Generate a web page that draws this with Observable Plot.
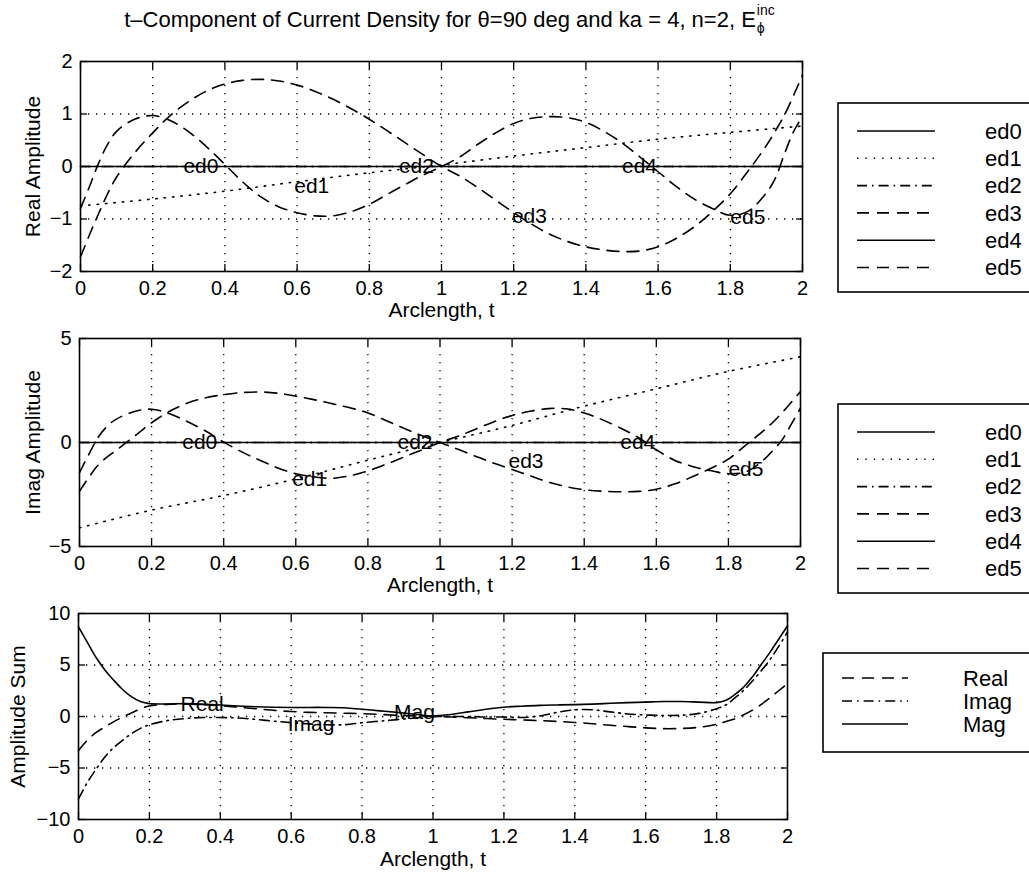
<!DOCTYPE html>
<html><head><meta charset="utf-8">
<script src="https://cdn.jsdelivr.net/npm/d3@7"></script>
<script src="https://cdn.jsdelivr.net/npm/@observablehq/plot@0.6"></script>
<style>
body{margin:0;background:#fff;}
#root{position:relative;width:1029px;height:880px;overflow:hidden;background:#fff;font-family:"Liberation Sans",Arial,Helvetica,sans-serif;color:#000;}
#root svg{position:absolute;left:0;top:0;}
#title{position:absolute;left:0;width:904px;top:7px;text-align:center;font-size:22px;line-height:24px;white-space:nowrap;}
.ss{display:inline-block;position:relative;width:24px;height:20px;vertical-align:baseline;}
.ss span{position:absolute;left:1px;font-size:14px;line-height:14px;}
</style></head><body>
<div id="root"><div id="title">t–Component of Current Density for θ=90 deg and ka = 4, n=2, E<span class="ss"><span style="top:-4px">inc</span><span style="top:14px">ϕ</span></span></div></div>
<script>
// ---------- data ----------
const xTicks = [0, 0.2, 0.4, 0.6, 0.8, 1, 1.2, 1.4, 1.6, 1.8, 2];
const xGrid = [0.2, 0.4, 0.6, 0.8, 1, 1.2, 1.4, 1.6, 1.8];
const tZero = [0, 2];
const zeroVals = [0, 0];
const tLin = [0, 0.2, 0.4, 0.6, 0.8, 1, 1.2, 1.4, 1.6, 1.8, 2];
const tGrid = [0, 0.025, 0.05, 0.075, 0.1, 0.15, 0.2, 0.25, 0.3, 0.35, 0.4, 0.45, 0.5, 0.55, 0.6, 0.65, 0.7, 0.75, 0.8, 0.85, 0.9, 0.95, 1.0,
  1.05, 1.1, 1.15, 1.2, 1.25, 1.3, 1.35, 1.4, 1.45, 1.5, 1.55, 1.6, 1.65, 1.7, 1.75, 1.8, 1.85, 1.9, 1.925, 1.95, 1.975, 2.0];

// Real amplitude
const realEd1 = [-0.75, -0.62, -0.47, -0.29, -0.12, 0.03, 0.2, 0.36, 0.52, 0.65, 0.77];
const realEd3 = [-1.72, -1.3, -0.9, -0.52, -0.2, 0.26, 0.64, 0.98, 1.24, 1.44, 1.57, 1.64, 1.66, 1.63, 1.55, 1.43, 1.28, 1.1, 0.9, 0.68, 0.45, 0.22, 0.0,
  -0.18, -0.4, -0.64, -0.88, -1.1, -1.29, -1.43, -1.53, -1.59, -1.62, -1.61, -1.53, -1.37, -1.15, -0.86, -0.52, -0.08, 0.4, 0.68, 0.98, 1.35, 1.74];
const realEd5 = [-0.8, -0.38, 0.06, 0.42, 0.67, 0.9, 0.97, 0.87, 0.66, 0.37, 0.04, -0.3, -0.58, -0.77, -0.88, -0.94, -0.94, -0.86, -0.72, -0.53, -0.34, -0.16, 0.0,
  0.18, 0.42, 0.64, 0.82, 0.92, 0.95, 0.93, 0.84, 0.67, 0.45, 0.18, -0.1, -0.38, -0.62, -0.8, -0.93, -0.85, -0.5, -0.22, 0.24, 0.66, 0.95];

// Imag amplitude
const imagEd1 = [-4.1, -3.25, -2.55, -1.75, -0.85, 0, 0.82, 1.75, 2.58, 3.42, 4.12];
const imagEd3 = [-2.35, -1.7, -1.12, -0.72, -0.4, 0.27, 0.95, 1.5, 1.9, 2.15, 2.3, 2.4, 2.43, 2.37, 2.23, 2.06, 1.87, 1.67, 1.42, 1.06, 0.68, 0.33, 0.0,
  -0.33, -0.67, -1.0, -1.3, -1.6, -1.9, -2.12, -2.27, -2.34, -2.37, -2.35, -2.25, -2.0, -1.65, -1.25, -0.8, -0.1, 0.6, 1.0, 1.45, 1.95, 2.45];
const imagEd5 = [-1.45, -0.6, 0.2, 0.75, 1.1, 1.48, 1.6, 1.38, 1.0, 0.55, 0.02, -0.45, -0.85, -1.22, -1.5, -1.65, -1.72, -1.6, -1.37, -1.05, -0.7, -0.35, 0.0,
  0.3, 0.65, 1.0, 1.3, 1.5, 1.63, 1.62, 1.42, 1.1, 0.7, 0.24, -0.35, -0.85, -1.15, -1.35, -1.5, -1.4, -0.8, -0.35, 0.15, 0.9, 1.65];

// Amplitude sums
const tSum = [0, 0.025, 0.05, 0.075, 0.1, 0.125, 0.15, 0.175, 0.2, 0.25, 0.3, 0.35, 0.4, 0.45, 0.5, 0.55, 0.6, 0.65, 0.7, 0.75, 0.8, 0.85, 0.9, 0.95, 1.0,
  1.05, 1.1, 1.15, 1.2, 1.25, 1.3, 1.35, 1.4, 1.45, 1.5, 1.55, 1.6, 1.65, 1.7, 1.75, 1.8, 1.825, 1.85, 1.875, 1.9, 1.925, 1.95, 1.975, 2.0];
const sumReal = [-3.3, -2.3, -1.55, -1.0, -0.5, -0.05, 0.35, 0.75, 1.02, 1.18, 1.22, 1.15, 1.05, 0.9, 0.75, 0.6, 0.48, 0.4, 0.36, 0.32, 0.27, 0.2, 0.12, 0.05, 0.0,
  -0.05, -0.12, -0.2, -0.27, -0.33, -0.4, -0.48, -0.58, -0.7, -0.85, -0.98, -1.1, -1.18, -1.16, -1.05, -0.75, -0.5, -0.25, 0.15, 0.6, 1.15, 1.8, 2.5, 3.2];
const sumImag = [-8.0, -6.4, -5.1, -3.9, -3.0, -2.3, -1.65, -1.15, -0.8, -0.4, -0.2, -0.1, -0.1, -0.15, -0.28, -0.45, -0.6, -0.72, -0.8, -0.8, -0.6, -0.45, -0.3, -0.15, 0.0,
  0.0, 0.0, -0.05, -0.05, -0.1, 0.05, 0.4, 0.65, 0.65, 0.45, 0.25, 0.15, 0.1, 0.12, 0.3, 0.75, 1.1, 1.75, 2.5, 3.4, 4.4, 5.5, 6.8, 8.2];
const sumMag = [8.7, 7.2, 5.7, 4.5, 3.5, 2.6, 1.9, 1.45, 1.25, 1.22, 1.25, 1.2, 1.12, 1.02, 0.95, 0.9, 0.88, 0.88, 0.88, 0.85, 0.7, 0.55, 0.4, 0.22, 0.05,
  0.2, 0.45, 0.7, 0.9, 1.0, 1.08, 1.12, 1.15, 1.2, 1.28, 1.35, 1.4, 1.45, 1.45, 1.4, 1.35, 1.55, 2.1, 2.8, 3.8, 5.0, 6.2, 7.5, 8.8];

// in-plot labels
const edNames = ["ed0", "ed1", "ed2", "ed3", "ed4", "ed5"];
const realLabelT = [0.285, 0.592, 0.882, 1.195, 1.5, 1.8];
const realLabelV = [0, -0.37, 0, -0.94, 0, -0.97];
const imagLabelT = [0.285, 0.59, 0.882, 1.19, 1.5, 1.8];
const imagLabelV = [0, -1.77, 0, -0.88, 0, -1.29];
const sumNames = ["Real", "Imag", "Mag"];
const sumLabelT = [0.288, 0.59, 0.89];
const sumLabelV = [1.23, -0.71, 0.42];

// ---------- styles ----------
const DASH = {solid: null, dotted: "1.4,7", dashdot: "10,5,1.6,5", dashed: "12,8"};
const edStyles = ["solid", "dotted", "dashdot", "dashed", "solid", "dashed"];
const sumStyles = ["dashed", "dashdot", "solid"];
const FONT = "Liberation Sans, Arial, Helvetica, sans-serif";
const W = 1029, H = 880;
const fmt = d => d < 0 ? "\u2212" + (-d) : String(d);
const rows = (t, v) => t.map((x, i) => ({t: x, v: v[i]}));

function panel({left, right, top, bottom, yDomain, yTicks, yGrid, series, labT, labV, labN, yLabel, yLabelX, xLabelDy}) {
  const gridStyle = {stroke: "black", strokeOpacity: 1, strokeWidth: 1.3, strokeDasharray: "1.3,6.7"};
  const marks = [
    Plot.gridX(xGrid, gridStyle),
    Plot.gridY(yGrid, gridStyle),
    ...series.map(s => Plot.line(rows(s.t, s.v), {x: "t", y: "v", stroke: "black", strokeWidth: 1.6,
      strokeDasharray: DASH[s.style], curve: "catmull-rom"})),
    Plot.text(labN.map((_, i) => i), {x: i => labT[i], y: i => labV[i], text: i => labN[i], textAnchor: "start", fontSize: 21, fill: "black"}),
    Plot.frame({stroke: "black", strokeWidth: 1.6}),
    Plot.axisX(xTicks, {anchor: "bottom", tickSize: -7, fill: "none", label: null, strokeWidth: 1.3}),
    Plot.axisX(xTicks, {anchor: "top", tickSize: -7, fill: "none", label: null, strokeWidth: 1.3}),
    Plot.axisY(yTicks, {anchor: "left", tickSize: -7, fill: "none", label: null, strokeWidth: 1.3}),
    Plot.axisY(yTicks, {anchor: "right", tickSize: -7, fill: "none", label: null, strokeWidth: 1.3}),
    Plot.axisX(xTicks, {anchor: "bottom", tickSize: 0, tickPadding: 9, tickFormat: fmt, fontSize: 20, fill: "black", label: null}),
    Plot.axisY(yTicks, {anchor: "left", tickSize: 0, tickPadding: 8, tickFormat: fmt, fontSize: 20, fill: "black", label: null}),
    Plot.text(["Arclength, t"], {frameAnchor: "bottom", dy: xLabelDy, fontSize: 21, fill: "black", textAnchor: "middle"}),
    Plot.text([yLabel], {frameAnchor: "left", dx: -(left - yLabelX), rotate: -90, fontSize: 21, fill: "black", textAnchor: "middle"})
  ];
  return Plot.plot({
    width: W, height: H,
    marginLeft: left, marginRight: W - right, marginTop: top, marginBottom: H - bottom,
    x: {domain: [0, 2]}, y: {domain: yDomain},
    style: {fontFamily: FONT, fontSize: "20px", background: "none", overflow: "visible", color: "black"},
    marks
  });
}

const root = document.getElementById("root");

root.appendChild(panel({
  left: 80, right: 802, top: 61, bottom: 271, yDomain: [-2, 2], yTicks: [-2, -1, 0, 1, 2], yGrid: [-1, 0, 1],
  series: [
    {t: tZero, v: zeroVals, style: "dashdot"},
    {t: tZero, v: zeroVals, style: "solid"},
    {t: tLin, v: realEd1, style: "dotted"},
    {t: tGrid, v: realEd3, style: "dashed"},
    {t: tGrid, v: realEd5, style: "dashed"}
  ],
  labT: realLabelT, labV: realLabelV, labN: edNames, yLabel: "Real Amplitude", yLabelX: 33, xLabelDy: 45
}));

root.appendChild(panel({
  left: 79, right: 800, top: 338, bottom: 546, yDomain: [-5, 5], yTicks: [-5, 0, 5], yGrid: [0],
  series: [
    {t: tZero, v: zeroVals, style: "dashdot"},
    {t: tZero, v: zeroVals, style: "solid"},
    {t: tLin, v: imagEd1, style: "dotted"},
    {t: tGrid, v: imagEd3, style: "dashed"},
    {t: tGrid, v: imagEd5, style: "dashed"}
  ],
  labT: imagLabelT, labV: imagLabelV, labN: edNames, yLabel: "Imag Amplitude", yLabelX: 33, xLabelDy: 45
}));

root.appendChild(panel({
  left: 78, right: 787, top: 613, bottom: 819, yDomain: [-10, 10], yTicks: [-10, -5, 0, 5, 10], yGrid: [-5, 0, 5],
  series: [
    {t: tSum, v: sumReal, style: "dashed"},
    {t: tSum, v: sumImag, style: "dashdot"},
    {t: tSum, v: sumMag, style: "solid"}
  ],
  labT: sumLabelT, labV: sumLabelV, labN: sumNames, yLabel: "Amplitude Sum", yLabelX: 18, xLabelDy: 46
}));

// ---------- legends ----------
const lsvg = d3.create("svg").attr("width", W).attr("height", H)
  .style("font-family", FONT).style("font-size", "22px");
function legend({x, y, h, rowY0, rowDy, x1, x2, tx, names, styles}) {
  const g = lsvg.append("g");
  g.append("rect").attr("x", x).attr("y", y).attr("width", W + 20 - x).attr("height", h)
    .attr("fill", "white").attr("stroke", "black").attr("stroke-width", 1.6);
  names.forEach((n, i) => {
    const yy = rowY0 + i * rowDy;
    g.append("line").attr("x1", x1).attr("x2", x2).attr("y1", yy).attr("y2", yy)
      .attr("stroke", "black").attr("stroke-width", 1.6)
      .attr("stroke-dasharray", DASH[styles[i]]);
    g.append("text").attr("x", tx).attr("y", yy).attr("dy", "0.35em").text(n);
  });
}
legend({x: 838, y: 103, h: 189, rowY0: 131, rowDy: 27.3, x1: 857, x2: 935, tx: 985, names: edNames, styles: edStyles});
legend({x: 838, y: 404, h: 189, rowY0: 432, rowDy: 27.3, x1: 857, x2: 935, tx: 985, names: edNames, styles: edStyles});
legend({x: 823, y: 653, h: 99, rowY0: 678, rowDy: 23, x1: 842, x2: 908, tx: 963, names: sumNames, styles: sumStyles});
root.appendChild(lsvg.node());
</script>
</body></html>
